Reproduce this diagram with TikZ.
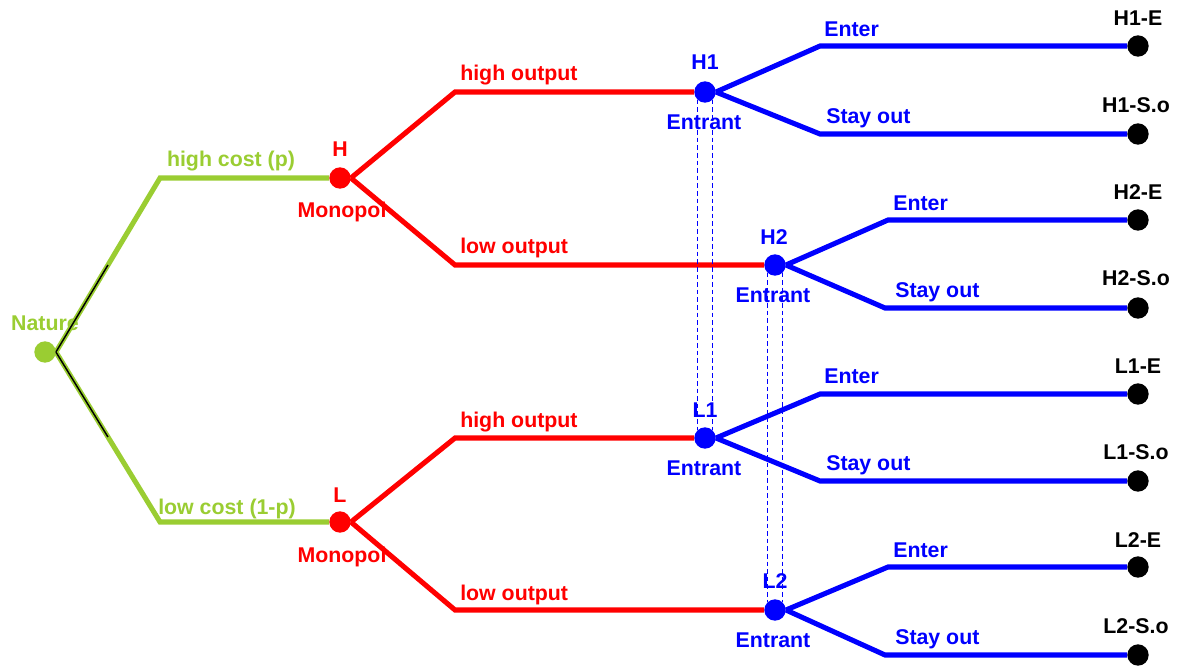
\documentclass[tikz,border=0pt]{standalone}
\usepackage{fontspec}
\setmainfont{Liberation Sans}
\usetikzlibrary{calc}

\definecolor{natgreen}{RGB}{154,205,50}
\definecolor{monred}{RGB}{255,0,0}
\definecolor{entblue}{RGB}{0,0,255}

\tikzset{
	dot/.style={circle,fill,inner sep=0pt,minimum size=16pt},
	lbl/.style={font=\bfseries\fontsize{16}{16}\selectfont,inner sep=0.75pt},
	branch/.style={line width=3.8pt},
	infoset/.style={entblue,line width=1pt,dash pattern=on 3.5pt off 2.2pt},
}

\begin{document}
\begin{tikzpicture}[x=0.75pt,y=0.75pt,yscale=-1]
	\useasboundingbox (0,0) rectangle (1182,668);

	% decision nodes
	\node [dot,natgreen] (N) at (45,352) {};
	\node [dot,monred] (H) at (340,178) {};
	\node [dot,monred] (L) at (340,522) {};
	\node [dot,entblue] (H1) at (705,92) {};
	\node [dot,entblue] (H2) at (775,265) {};
	\node [dot,entblue] (L1) at (705,438) {};
	\node [dot,entblue] (L2) at (775,610) {};

	% end nodes
	\node [dot,black] (H1E) at (1138,46) {};
	\node [dot,black] (H1S) at (1138,134) {};
	\node [dot,black] (H2E) at (1138,220) {};
	\node [dot,black] (H2S) at (1138,308) {};
	\node [dot,black] (L1E) at (1138,394) {};
	\node [dot,black] (L1S) at (1138,481) {};
	\node [dot,black] (L2E) at (1138,567) {};
	\node [dot,black] (L2S) at (1138,655) {};

	% bends
	\coordinate (hc) at (160,178);
	\coordinate (lc) at (160,522);
	\coordinate (Hh) at (455,92);
	\coordinate (Hl) at (455,265);
	\coordinate (Lh) at (455,438);
	\coordinate (Ll) at (455,610);
	\coordinate (H1e) at (820,46);
	\coordinate (H1s) at (820,134);
	\coordinate (H2e) at (888,220);
	\coordinate (H2s) at (885,308);
	\coordinate (L1e) at (820,394);
	\coordinate (L1s) at (820,481);
	\coordinate (L2e) at (888,567);
	\coordinate (L2s) at (885,655);

	% player names
	\node [lbl,natgreen,anchor=base] (nN) at (45,330) {Nature};
	\node [lbl,monred,anchor=base] (nH) at (340,156) {H};
	\node [lbl,monred,anchor=base] (mH) at (342,217) {Monopol};
	\node [lbl,monred,anchor=base] (nL) at (340,502) {L};
	\node [lbl,monred,anchor=base] (mL) at (342,562) {Monopol};
	\node [lbl,entblue,anchor=base] (nH1) at (705,69) {H1};
	\node [lbl,entblue,anchor=base] (eH1) at (704,129) {Entrant};
	\node [lbl,entblue,anchor=base] (nH2) at (774,244) {H2};
	\node [lbl,entblue,anchor=base] (eH2) at (773,302) {Entrant};
	\node [lbl,entblue,anchor=base] (nL1) at (705,417) {L1};
	\node [lbl,entblue,anchor=base] (eL1) at (704,475) {Entrant};
	\node [lbl,entblue,anchor=base] (nL2) at (775,588) {L2};
	\node [lbl,entblue,anchor=base] (eL2) at (773,647) {Entrant};

	% action labels
	\node [lbl,natgreen,anchor=base] (ahc) at (231,166) {high cost (p)};
	\node [lbl,natgreen,anchor=base] (alc) at (227,514) {low cost (1-p)};
	\node [lbl,monred,anchor=base west] (aHh) at (459,80) {high output};
	\node [lbl,monred,anchor=base west] (aHl) at (459,253) {low output};
	\node [lbl,monred,anchor=base west] (aLh) at (459,427) {high output};
	\node [lbl,monred,anchor=base west] (aLl) at (459,600) {low output};
	\node [lbl,entblue,anchor=base west] (aH1e) at (823,36) {Enter};
	\node [lbl,entblue,anchor=base west] (aH1s) at (825,123) {Stay out};
	\node [lbl,entblue,anchor=base west] (aH2e) at (892,210) {Enter};
	\node [lbl,entblue,anchor=base west] (aH2s) at (894,297) {Stay out};
	\node [lbl,entblue,anchor=base west] (aL1e) at (823,383) {Enter};
	\node [lbl,entblue,anchor=base west] (aL1s) at (825,470) {Stay out};
	\node [lbl,entblue,anchor=base west] (aL2e) at (892,557) {Enter};
	\node [lbl,entblue,anchor=base west] (aL2s) at (894,644) {Stay out};

	% outcomes
	\node [lbl,anchor=base] (oH1E) at (1138,25) {H1-E};
	\node [lbl,anchor=base] (oH1S) at (1136,112) {H1-S.o};
	\node [lbl,anchor=base] (oH2E) at (1138,199) {H2-E};
	\node [lbl,anchor=base] (oH2S) at (1136,285) {H2-S.o};
	\node [lbl,anchor=base] (oL1E) at (1138,373) {L1-E};
	\node [lbl,anchor=base] (oL1S) at (1136,459) {L1-S.o};
	\node [lbl,anchor=base] (oL2E) at (1138,547) {L2-E};
	\node [lbl,anchor=base] (oL2S) at (1136,633) {L2-S.o};

	% nature
	\draw [branch,natgreen] (N.east) -- (hc) -- (H.west);
	\draw [branch,natgreen] (N.east) -- (lc) -- (L.west);
	\draw [black,line width=1.1pt] (N.east) -- ($(N.east)!0.5!(hc)$);
	\draw [black,line width=1.1pt] (N.east) -- ($(N.east)!0.5!(lc)$);

	% monopolist
	\draw [branch,monred] (H.east) -- (Hh) -- (H1.west);
	\draw [branch,monred] (H.east) -- (Hl) -- (H2.west);
	\draw [branch,monred] (L.east) -- (Lh) -- (L1.west);
	\draw [branch,monred] (L.east) -- (Ll) -- (L2.west);

	% entrant
	\draw [branch,entblue] (H1.east) -- (H1e) -- (H1E.west);
	\draw [branch,entblue] (H1.east) -- (H1s) -- (H1S.west);
	\draw [branch,entblue] (H2.east) -- (H2e) -- (H2E.west);
	\draw [branch,entblue] (H2.east) -- (H2s) -- (H2S.west);
	\draw [branch,entblue] (L1.east) -- (L1e) -- (L1E.west);
	\draw [branch,entblue] (L1.east) -- (L1s) -- (L1S.west);
	\draw [branch,entblue] (L2.east) -- (L2e) -- (L2E.west);
	\draw [branch,entblue] (L2.east) -- (L2s) -- (L2S.west);

	% information sets
	\draw [infoset] (H1.south west) -- (L1.north west);
	\draw [infoset] (H1.south east) -- (L1.north east);
	\draw [infoset] (H2.south west) -- (L2.north west);
	\draw [infoset] (H2.south east) -- (L2.north east);
\end{tikzpicture}
\end{document}
